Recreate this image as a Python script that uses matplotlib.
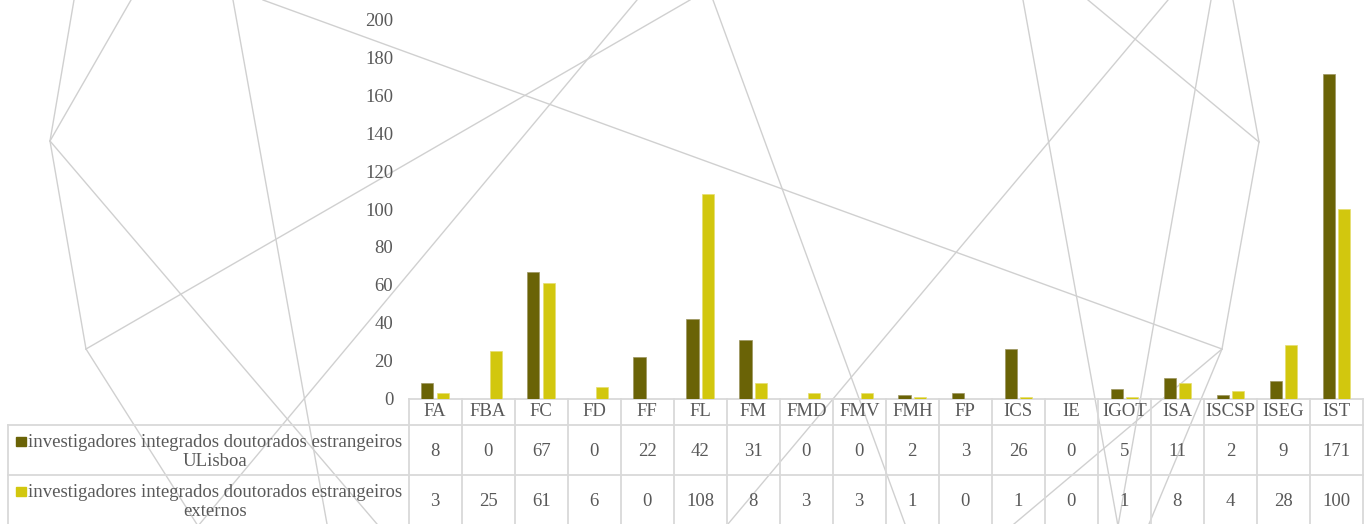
import matplotlib
matplotlib.use('Agg')
import matplotlib.pyplot as plt
import matplotlib.transforms as mtransforms
from matplotlib.lines import Line2D
from matplotlib.patches import Rectangle
import numpy as np

plt.rcParams['font.family'] = 'Liberation Serif'
plt.rcParams['font.size'] = 13.5

categories = ['FA', 'FBA', 'FC', 'FD', 'FF', 'FL', 'FM', 'FMD', 'FMV', 'FMH',
              'FP', 'ICS', 'IE', 'IGOT', 'ISA', 'ISCSP', 'ISEG', 'IST']
ulisboa = [8, 0, 67, 0, 22, 42, 31, 0, 0, 2, 3, 26, 0, 5, 11, 2, 9, 171]
externos = [3, 25, 61, 6, 0, 108, 8, 3, 3, 1, 0, 1, 0, 1, 8, 4, 28, 100]
series_names = ['investigadores integrados doutorados estrangeiros\nULisboa',
                'investigadores integrados doutorados estrangeiros\nexternos']
yticks = [0, 20, 40, 60, 80, 100, 120, 140, 160, 180, 200]

color_dark = '#6A6306'
color_light = '#D2C70E'
text_color = '#595959'
grid_color = '#D9D9D9'
deco_color = '#D0D0D0'

W, H = 1370, 524
fig = plt.figure(figsize=(W / 100, H / 100), dpi=100)


def fx(x):
    return x / W


def fy(y):
    # pixel y counted from the top
    return 1 - y / H


# background decoration (slide pattern)
deco = [((74, 0), (50, 141)), ((131, 0), (50, 141)), ((50, 141), (86, 349)),
        ((50, 141), (377, 524)), ((86, 349), (690, 0)), ((86, 349), (198, 526)),
        ((198, 526), (637, 0)), ((233, 0), (327, 524)), ((263, 0), (1222, 349)),
        ((713, 0), (905, 524)), ((728, 524), (1168, 0)), ((1023, 0), (1118, 526)),
        ((1211, 0), (1118, 526)), ((1088, 0), (1259, 142)), ((1233, 0), (1259, 142)),
        ((1259, 142), (1222, 349)), ((1222, 349), (1014, 524)), ((1222, 349), (1149, 524))]
for (x0, y0), (x1, y1) in deco:
    fig.add_artist(Line2D([fx(x0), fx(x1)], [fy(y0), fy(y1)], color=deco_color,
                          lw=1.0, transform=fig.transFigure, zorder=-5))

left, right, top, base = 408.5, 1363, 19.5, 398.5
ax = fig.add_axes([fx(left), fy(base), fx(right - left), (base - top) / H])
ax.patch.set_visible(False)

x = np.arange(len(categories))
w = 0.23
ax.bar(x - 0.145, ulisboa, w, color=color_dark, edgecolor='#9C9660', linewidth=0.5, zorder=3)
ax.bar(x + 0.145, externos, w, color=color_light, edgecolor='#E6DE70', linewidth=0.5, zorder=3)

ax.set_xlim(-0.5, len(categories) - 0.5)
ax.set_ylim(0, 200)
ax.set_yticks(yticks)
ax.set_xticks([])
ax.tick_params(axis='y', length=0, pad=11, labelcolor=text_color, labelsize=13.5)
for s in ax.spines.values():
    s.set_visible(False)

# data table below the plot
blend = mtransforms.blended_transform_factory(ax.transData, fig.transFigure)
lw = 1.3
row_top, row1, row2, row_end = 399, 425, 475, 526
n = len(categories)
ax.add_line(Line2D([-0.5, n - 0.5], [fy(row_top)] * 2, color=grid_color, lw=lw,
                   transform=blend, clip_on=False))
for yy in (row1, row2):
    fig.add_artist(Line2D([fx(8), fx(right)], [fy(yy)] * 2, color=grid_color, lw=lw,
                          transform=fig.transFigure))
fig.add_artist(Line2D([fx(8), fx(8)], [fy(row1), fy(row_end)], color=grid_color, lw=lw,
                      transform=fig.transFigure))
for i in range(n + 1):
    ax.add_line(Line2D([i - 0.5, i - 0.5], [fy(row_top), fy(row_end)], color=grid_color,
                       lw=lw, transform=blend, clip_on=False))

for i, cat in enumerate(categories):
    ax.text(i, fy(412), cat, transform=blend, ha='center', va='center',
            color=text_color, clip_on=False)
    ax.text(i, fy(451), str(ulisboa[i]), transform=blend, ha='center', va='center',
            color=text_color, clip_on=False)
    ax.text(i, fy(501), str(externos[i]), transform=blend, ha='center', va='center',
            color=text_color, clip_on=False)

for name, col, yc in zip(series_names, [color_dark, color_light], [452, 502]):
    fig.text(fx(215), fy(yc), name, ha='center', va='center', color=text_color,
             linespacing=1.2)
    fig.add_artist(Rectangle((fx(16), fy(yc - 6)), fx(9.5), 9.5 / H, color=col,
                             transform=fig.transFigure))

fig.savefig('out.png', dpi=100, facecolor='white')
